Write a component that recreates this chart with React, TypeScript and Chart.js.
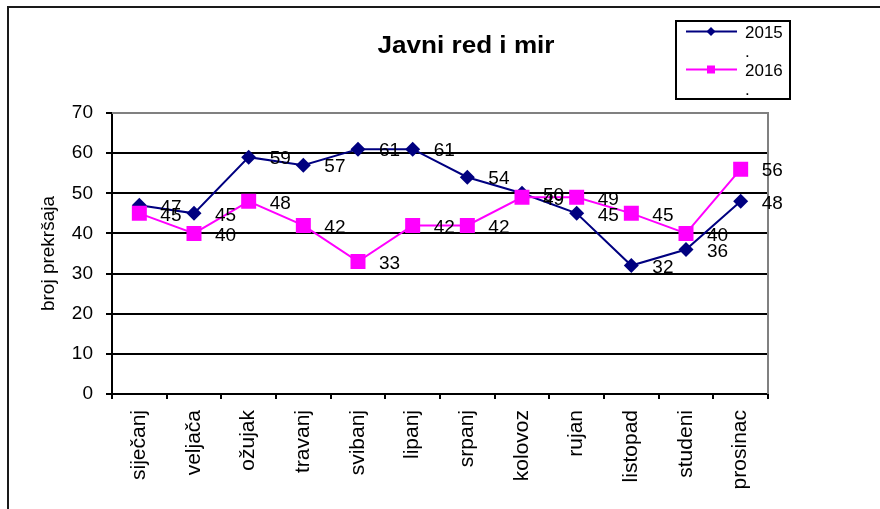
import React, { useEffect, useRef } from 'react';
import { Chart, registerables } from 'chart.js';

Chart.register(...registerables);

const categories = ['siječanj', 'veljača', 'ožujak', 'travanj', 'svibanj', 'lipanj', 'srpanj', 'kolovoz', 'rujan', 'listopad', 'studeni', 'prosinac'];
const values2015 = [47, 45, 59, 57, 61, 61, 54, 50, 45, 32, 36, 48];
const values2016 = [45, 40, 48, 42, 33, 42, 42, 49, 49, 45, 40, 56];
const seriesNames = ['2015\n.', '2016\n.'];
const chartTitle = 'Javni red i mir';
const yAxisTitle = 'broj prekršaja';
const yMin = 0;
const yMax = 70;
const yStep = 10;

const FONT = '"Liberation Sans", Arial, sans-serif';
const NAVY = '#000080';
const MAGENTA = '#FF00FF';

const decorPlugin = {
  id: 'decor',
  beforeDraw(chart: any) {
    const ctx = chart.ctx;
    ctx.save();
    ctx.fillStyle = '#ffffff';
    ctx.fillRect(0, 0, chart.width, chart.height);
    ctx.strokeStyle = '#1a1a1a';
    ctx.lineWidth = 2;
    ctx.beginPath();
    ctx.moveTo(8, chart.height);
    ctx.lineTo(8, 7);
    ctx.lineTo(chart.width, 7);
    ctx.stroke();
    ctx.restore();
  },
  beforeDatasetsDraw(chart: any) {
    const ctx = chart.ctx;
    const a = chart.chartArea;
    ctx.save();
    ctx.strokeStyle = '#808080';
    ctx.lineWidth = 2;
    ctx.beginPath();
    ctx.moveTo(a.left, a.top);
    ctx.lineTo(a.right, a.top);
    ctx.lineTo(a.right, a.bottom);
    ctx.stroke();
    ctx.restore();
  },
  afterDatasetsDraw(chart: any) {
    const ctx = chart.ctx;
    ctx.save();
    ctx.fillStyle = '#000';
    ctx.font = `19px ${FONT}`;
    ctx.textAlign = 'left';
    ctx.textBaseline = 'middle';
    chart.data.datasets.forEach((ds: any, i: number) => {
      const meta = chart.getDatasetMeta(i);
      meta.data.forEach((pt: any, j: number) => {
        ctx.fillText(String(ds.data[j]), pt.x + 21, pt.y + 2);
      });
    });
    ctx.restore();
  },
  afterDraw(chart: any) {
    const ctx = chart.ctx;
    const a = chart.chartArea;
    ctx.save();
    // title (slightly widened to match the reference)
    ctx.fillStyle = '#000';
    ctx.font = `bold 23px ${FONT}`;
    ctx.textAlign = 'center';
    ctx.textBaseline = 'alphabetic';
    const tw = ctx.measureText(chartTitle).width;
    const sx = 177 / tw;
    ctx.save();
    ctx.translate(466, 53);
    ctx.scale(sx, 1);
    ctx.fillText(chartTitle, 0, 0);
    ctx.restore();
    // y axis title
    ctx.save();
    ctx.translate(49, (a.top + a.bottom) / 2);
    ctx.rotate(-Math.PI / 2);
    ctx.font = `19px ${FONT}`;
    ctx.textAlign = 'center';
    ctx.textBaseline = 'middle';
    ctx.fillText(yAxisTitle, 0, 0);
    ctx.restore();
    // legend
    ctx.strokeStyle = '#000';
    ctx.lineWidth = 2;
    ctx.strokeRect(676, 21, 114, 78);
    const rows = [
      { y: 31.5, color: NAVY, style: 'diamond' },
      { y: 69.5, color: MAGENTA, style: 'square' },
    ];
    chart.data.datasets.forEach((ds: any, i: number) => {
      const r = rows[i];
      ctx.strokeStyle = r.color;
      ctx.lineWidth = 2;
      ctx.beginPath();
      ctx.moveTo(686, r.y);
      ctx.lineTo(737, r.y);
      ctx.stroke();
      ctx.fillStyle = r.color;
      ctx.beginPath();
      if (r.style === 'diamond') {
        ctx.moveTo(711, r.y - 4.5);
        ctx.lineTo(715.5, r.y);
        ctx.lineTo(711, r.y + 4.5);
        ctx.lineTo(706.5, r.y);
        ctx.closePath();
        ctx.fill();
      } else {
        ctx.fillRect(707, r.y - 4, 8, 8);
      }
      ctx.fillStyle = '#000';
      ctx.font = `17px ${FONT}`;
      ctx.textAlign = 'left';
      ctx.textBaseline = 'alphabetic';
      const lines = String(ds.label).split('\n');
      lines.forEach((ln: string, k: number) => {
        ctx.fillText(ln, 745, r.y + 6 + k * 19);
      });
    });
    ctx.restore();
  },
};

export default function App() {
  const ref = useRef<HTMLCanvasElement | null>(null);
  useEffect(() => {
    document.body.style.margin = '0';
    if (!ref.current) return;
    const chart = new Chart(ref.current, {
      type: 'line',
      data: {
        labels: categories,
        datasets: [
          {
            label: seriesNames[0],
            data: values2015,
            borderColor: NAVY,
            backgroundColor: NAVY,
            borderWidth: 2,
            pointStyle: 'rectRot',
            pointRadius: 7.5,
            pointBorderWidth: 0,
            pointBackgroundColor: NAVY,
            order: 1,
          },
          {
            label: seriesNames[1],
            data: values2016,
            borderColor: MAGENTA,
            backgroundColor: MAGENTA,
            borderWidth: 2,
            pointStyle: 'rect',
            pointRadius: 10.6,
            pointBorderWidth: 0,
            pointBackgroundColor: MAGENTA,
            order: 0,
          },
        ],
      },
      options: {
        animation: false,
        responsive: true,
        maintainAspectRatio: false,
        layout: { padding: { left: 0, right: 112, top: 113, bottom: 0 } },
        plugins: {
          legend: { display: false },
          title: { display: false },
          tooltip: { enabled: false },
        },
        scales: {
          x: {
            type: 'category',
            offset: true,
            afterFit: (s: any) => { s.height = 115; },
            grid: { offset: true, drawOnChartArea: false, drawTicks: true, tickLength: 5, color: '#000', lineWidth: 2 },
            border: { color: '#000', width: 2 },
            ticks: {
              autoSkip: false,
              minRotation: 90,
              maxRotation: 90,
              padding: 11,
              color: '#000',
              font: { family: FONT, size: 21 },
            },
          },
          y: {
            min: yMin,
            max: yMax,
            afterFit: (s: any) => { s.width = 112; },
            grid: { color: '#000', lineWidth: 2, tickLength: 6 },
            border: { color: '#000', width: 2 },
            ticks: {
              stepSize: yStep,
              padding: 13,
              color: '#000',
              font: { family: FONT, size: 19 },
            },
          },
        },
      },
      plugins: [decorPlugin],
    });
    return () => chart.destroy();
  }, []);
  return (
    <div style={{ width: 880, height: 509, position: 'relative' }}>
      <canvas ref={ref} />
    </div>
  );
}
